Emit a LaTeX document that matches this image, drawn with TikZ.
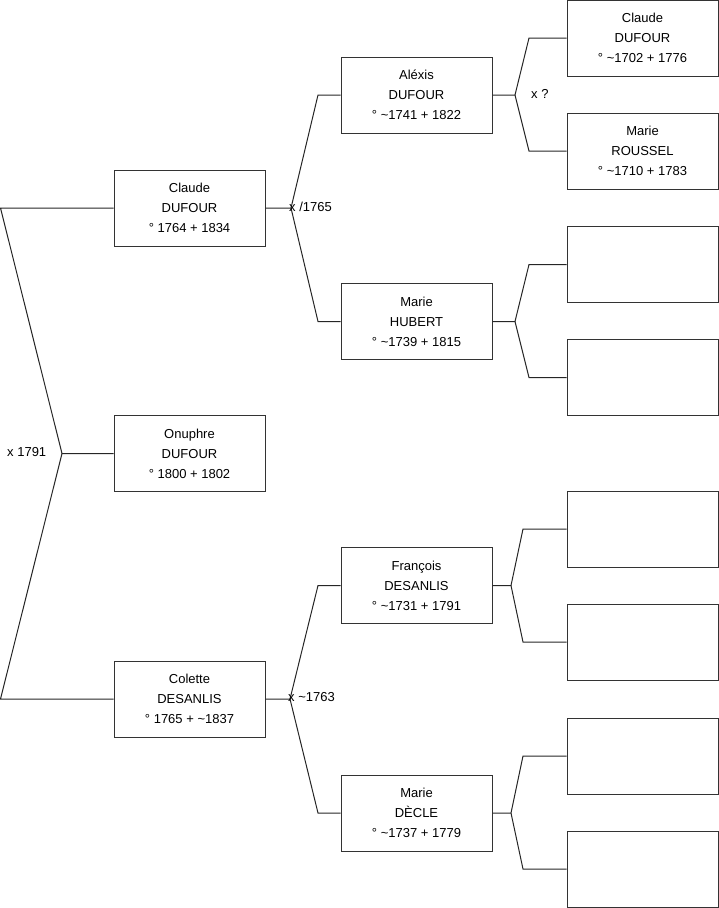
\documentclass[tikz,border=0pt]{standalone}
\usepackage{fontspec}
\setmainfont{Liberation Sans}
\newcommand\mytl{\textasciitilde}
\begin{document}
\begin{tikzpicture}[x=1pt,y=-1pt,
  person/.style={draw=black!80, line width=1pt, minimum width=151pt, minimum height=76pt, inner sep=0pt, align=center, font=\fontsize{13}{20}\selectfont},
  conn/.style={draw=black!85, line width=1pt},
  lbl/.style={anchor=mid west, inner sep=0pt, font=\fontsize{13}{20}\selectfont}]
\useasboundingbox (0,0) rectangle (719,908);
% generation 1
\node[person] (c1) at (189.5,208) {Claude\\DUFOUR\\° 1764 + 1834};
\node[person] (o1) at (189.5,453.5) {Onuphre\\DUFOUR\\° 1800 + 1802};
\node[person] (d1) at (189.5,699) {Colette\\DESANLIS\\° 1765 + \mytl1837};
% generation 2
\node[person] (a2) at (416.5,95) {Aléxis\\DUFOUR\\° \mytl1741 + 1822};
\node[person] (h2) at (416.5,321.5) {Marie\\HUBERT\\° \mytl1739 + 1815};
\node[person] (f2) at (416.5,585.5) {François\\DESANLIS\\° \mytl1731 + 1791};
\node[person] (m2) at (416.5,813) {Marie\\DÈCLE\\° \mytl1737 + 1779};
% generation 3
\node[person] (g1) at (642.5,38) {Claude\\DUFOUR\\° \mytl1702 + 1776};
\node[person] (g2) at (642.5,151) {Marie\\ROUSSEL\\° \mytl1710 + 1783};
\node[person] (g3) at (642.5,264.5) {};
\node[person] (g4) at (642.5,377.5) {};
\node[person] (g5) at (642.5,529) {};
\node[person] (g6) at (642.5,642) {};
\node[person] (g7) at (642.5,756) {};
\node[person] (g8) at (642.5,869) {};
% left couple
\coordinate (lt) at (0.5,208);
\coordinate (lm) at (62,453.5);
\coordinate (lb) at (0.5,699);
\draw[conn] (c1.west) -- (lt) -- (lm) -- (o1.west);
\draw[conn] (lm) -- (lb) -- (d1.west);
\node[lbl] (x0) at (7,454) {x 1791};
% Claude parents
\coordinate (j1) at (291,208);
\coordinate (j1t) at (318,95);
\coordinate (j1b) at (318,321.5);
\draw[conn] (c1.east) -- (j1) -- (j1t) -- (a2.west);
\draw[conn] (j1) -- (j1b) -- (h2.west);
\node[lbl] (x1) at (289,209) {x /1765};
% Colette parents
\coordinate (j2) at (290,699);
\coordinate (j2t) at (318,585.5);
\coordinate (j2b) at (318,813);
\draw[conn] (d1.east) -- (j2) -- (j2t) -- (f2.west);
\draw[conn] (j2) -- (j2b) -- (m2.west);
\node[lbl] (x2) at (288,699) {x \mytl1763};
% Alexis parents
\coordinate (j3) at (515,95);
\coordinate (j3t) at (529,38);
\coordinate (j3b) at (529,151);
\draw[conn] (a2.east) -- (j3) -- (j3t) -- (g1.west);
\draw[conn] (j3) -- (j3b) -- (g2.west);
\node[lbl] (x3) at (531,95.5) {x ?};
% Hubert parents
\coordinate (j4) at (515,321.5);
\coordinate (j4t) at (529,264.5);
\coordinate (j4b) at (529,377.5);
\draw[conn] (h2.east) -- (j4) -- (j4t) -- (g3.west);
\draw[conn] (j4) -- (j4b) -- (g4.west);
% Francois parents
\coordinate (j5) at (511,585.5);
\coordinate (j5t) at (523,529);
\coordinate (j5b) at (523,642);
\draw[conn] (f2.east) -- (j5) -- (j5t) -- (g5.west);
\draw[conn] (j5) -- (j5b) -- (g6.west);
% Decle parents
\coordinate (j6) at (511,813);
\coordinate (j6t) at (523,756);
\coordinate (j6b) at (523,869);
\draw[conn] (m2.east) -- (j6) -- (j6t) -- (g7.west);
\draw[conn] (j6) -- (j6b) -- (g8.west);
\end{tikzpicture}
\end{document}
